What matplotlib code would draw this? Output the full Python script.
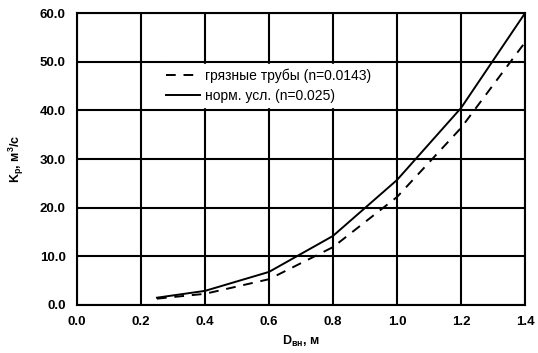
import matplotlib
matplotlib.use("Agg")
import matplotlib.pyplot as plt

plt.rcParams["font.family"] = ["Liberation Sans", "DejaVu Sans"]

d_vn = [0.25, 0.4, 0.6, 0.8, 1.0, 1.2, 1.4]
k_dirty = [1.3, 2.3, 5.3, 11.9, 22.2, 36.4, 54.0]
k_norm = [1.5, 2.9, 6.8, 14.2, 25.7, 40.5, 60.0]

fig = plt.figure(figsize=(5.38, 3.53), dpi=100)
ax = fig.add_axes([0.143, 0.136, 0.833, 0.827])

ax.plot(d_vn, k_dirty, color="black", lw=1.4, ls=(0, (5, 4)),
        label="грязные трубы (n=0.0143)")
ax.plot(d_vn, k_norm, color="black", lw=1.4, label="норм. усл. (n=0.025)")

ax.set_xlim(0, 1.4)
ax.set_ylim(0, 60)
ax.set_xticks([0.0, 0.2, 0.4, 0.6, 0.8, 1.0, 1.2, 1.4])
ax.set_yticks([0, 10, 20, 30, 40, 50, 60])
ax.xaxis.set_major_formatter(plt.FormatStrFormatter("%.1f"))
ax.yaxis.set_major_formatter(plt.FormatStrFormatter("%.1f"))
ax.grid(True, color="black", lw=1.5)
for s in ax.spines.values():
    s.set_linewidth(1.5)
ax.tick_params(length=0, pad=8, labelsize=9.5)
for lbl in ax.get_xticklabels() + ax.get_yticklabels():
    lbl.set_fontweight("bold")

ax.set_xlabel("D$_{\\mathregular{вн}}$, м", fontsize=9, fontweight="bold", labelpad=4)
ax.set_ylabel("K$_{\\mathregular{р}}$, м$^{\\mathregular{3}}$/с", fontsize=9,
              fontweight="bold", labelpad=10)

leg = ax.legend(loc="upper left", bbox_to_anchor=(0.19, 0.825), frameon=True,
                fontsize=10, handlelength=2.4, handletextpad=0.4,
                borderaxespad=0, borderpad=0.3, labelspacing=0.45)
leg.get_frame().set_facecolor("white")
leg.get_frame().set_edgecolor("white")
leg.get_frame().set_alpha(1)

fig.savefig("out.png", dpi=100)
